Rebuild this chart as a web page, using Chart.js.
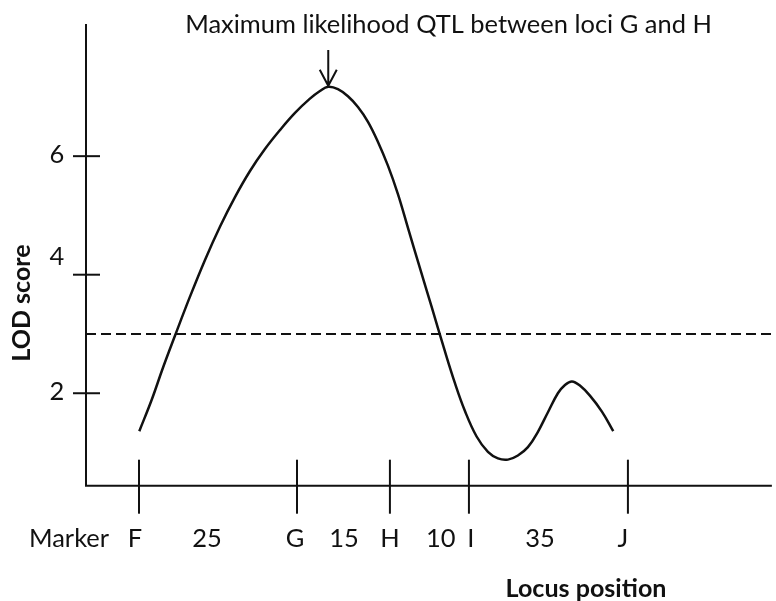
<!DOCTYPE html>
<html>
<head>
<meta charset="utf-8">
<style>
  html, body { margin: 0; padding: 0; background: #fff; }
  canvas { display: block; }
</style>
<script src="https://cdn.jsdelivr.net/npm/chart.js@4/dist/chart.umd.min.js"></script>
</head>
<body>
<canvas id="qtl-chart" width="776" height="601"></canvas>
<script>
// marker loci along the linkage group (position in axis units) and the cM gaps between them
const markerNames = ["F", "G", "H", "I", "J"];
const markerPos = [7.73, 30.76, 44.31, 55.83, 79.01];
const intervalCM = [25, 15, 10, 35];

// LOD profile
const locusX = [7.77, 9.58, 11.22, 12.97, 15.16, 17.35, 19.53, 21.72, 23.91, 26.09,
  28.28, 30.47, 32.65, 34.11, 35.32, 36.73, 38.19, 39.65, 41.11, 42.57,
  44.02, 45.48, 46.94, 48.69, 50.44, 52.19, 53.79, 55.25, 56.95, 58.60,
  60.06, 61.52, 62.97, 64.43, 65.89, 67.35, 68.80, 69.83, 70.85, 72.01,
  73.47, 75.22, 76.87];
const lodY = [1.36, 1.89, 2.43, 2.97, 3.63, 4.25, 4.81, 5.31, 5.75, 6.12,
  6.44, 6.73, 6.97, 7.10, 7.17, 7.13, 7.01, 6.83, 6.58, 6.24,
  5.84, 5.36, 4.79, 4.11, 3.44, 2.76, 2.17, 1.70, 1.27, 1.01,
  0.90, 0.88, 0.95, 1.09, 1.35, 1.68, 2.00, 2.14, 2.20, 2.13,
  1.96, 1.69, 1.36];

const lodThreshold = 3;
const yTicks = [2, 4, 6];
const yTickLabels = ["2", "4", "6"];

const titleText = "Maximum likelihood QTL between loci G and H";
const xTitle = "Locus position";
const yTitle = "LOD score";

const ink = "#111";

function fitSize(ctx, text, weight, family, targetW) {
  ctx.font = weight + " 100px " + family;
  return 100 * targetW / ctx.measureText(text).width;
}

const axisPlugin = {
  id: "markerAxis",
  afterDraw(chart, args, opts) {
    const ctx = chart.ctx;
    const xs = chart.scales.x, ys = chart.scales.y;
    const x0 = xs.getPixelForValue(0);
    const yAxis = ys.getPixelForValue(ys.min);
    const fam = "Lato, 'Open Sans', sans-serif";
    const reg = fitSize(ctx, titleText, "normal", fam, 527);
    const bold = fitSize(ctx, xTitle, "bold", fam, 161);

    ctx.save();
    ctx.strokeStyle = ink;
    ctx.fillStyle = ink;
    ctx.lineWidth = 2;

    // axis lines
    ctx.beginPath();
    ctx.moveTo(x0, ys.getPixelForValue(ys.max));
    ctx.lineTo(x0, yAxis);
    ctx.lineTo(xs.getPixelForValue(100), yAxis);
    ctx.stroke();

    // y ticks crossing the axis
    ctx.font = "normal " + reg + "px " + fam;
    ctx.textAlign = "center";
    ctx.textBaseline = "alphabetic";
    yTicks.forEach((v, i) => {
      const y = ys.getPixelForValue(v);
      ctx.beginPath();
      ctx.moveTo(x0 - 13, y);
      ctx.lineTo(x0 + 14, y);
      ctx.stroke();
      const shift = opts.yLabelShift[v] !== undefined ? opts.yLabelShift[v] : 7;
      ctx.fillText(yTickLabels[i], 57, y + shift);
    });

    // marker ticks and labels
    const labelBase = yAxis + 61;
    markerPos.forEach((p, i) => {
      const x = xs.getPixelForValue(p);
      ctx.beginPath();
      ctx.moveTo(x, yAxis - 26);
      ctx.lineTo(x, yAxis + 28);
      ctx.stroke();
      ctx.fillText(markerNames[i], x + opts.markerNudge[i], labelBase);
    });
    intervalCM.forEach((d, i) => {
      ctx.fillText(String(d), xs.getPixelForValue(opts.intervalAt[i]), labelBase);
    });
    ctx.fillText("Marker", 69, labelBase);

    // title and arrow to the peak
    ctx.fillText(titleText, 448.5, 33);
    let pk = 0;
    lodY.forEach((v, i) => { if (v > lodY[pk]) pk = i; });
    const ax = xs.getPixelForValue(locusX[pk]);
    const ay = ys.getPixelForValue(lodY[pk]) - 1;
    ctx.beginPath();
    ctx.moveTo(ax, 50);
    ctx.lineTo(ax, ay);
    ctx.moveTo(ax - 8.5, ay - 16);
    ctx.lineTo(ax, ay);
    ctx.lineTo(ax + 8.5, ay - 16);
    ctx.stroke();

    // axis titles
    ctx.font = "bold " + bold + "px " + fam;
    ctx.fillText(xTitle, 586, 596.5);
    ctx.translate(29.5, 303);
    ctx.rotate(-Math.PI / 2);
    ctx.fillText(yTitle, 0, 0);
    ctx.restore();
  }
};

new Chart(document.getElementById("qtl-chart"), {
  type: "line",
  data: {
    datasets: [
      {
        label: "LOD",
        data: locusX.map((x, i) => ({ x: x, y: lodY[i] })),
        borderColor: ink,
        borderWidth: 2.5,
        pointRadius: 0,
        tension: 0.4,
        fill: false,
      },
      {
        label: "Threshold",
        data: [{ x: 0, y: lodThreshold }, { x: 101, y: lodThreshold }],
        borderColor: ink,
        borderWidth: 2,
        borderDash: [10, 5],
        pointRadius: 0,
        fill: false,
      },
    ],
  },
  options: {
    responsive: false,
    animation: false,
    devicePixelRatio: 1,
    layout: { padding: { left: 86, top: 24, right: 0, bottom: 115.3 } },
    scales: {
      x: { type: "linear", min: 0, max: 100.6, display: false },
      y: { type: "linear", min: 0.44, max: 8.23, display: false },
    },
    plugins: {
      legend: { display: false },
      tooltip: { enabled: false },
      markerAxis: {
        yLabelShift: { 4: -10 },
        markerNudge: [-4, -2, 0, 2, -5],
        intervalAt: [17.64, 37.61, 51.71, 66.18],
      },
    },
  },
  plugins: [axisPlugin],
});
</script>
</body>
</html>
